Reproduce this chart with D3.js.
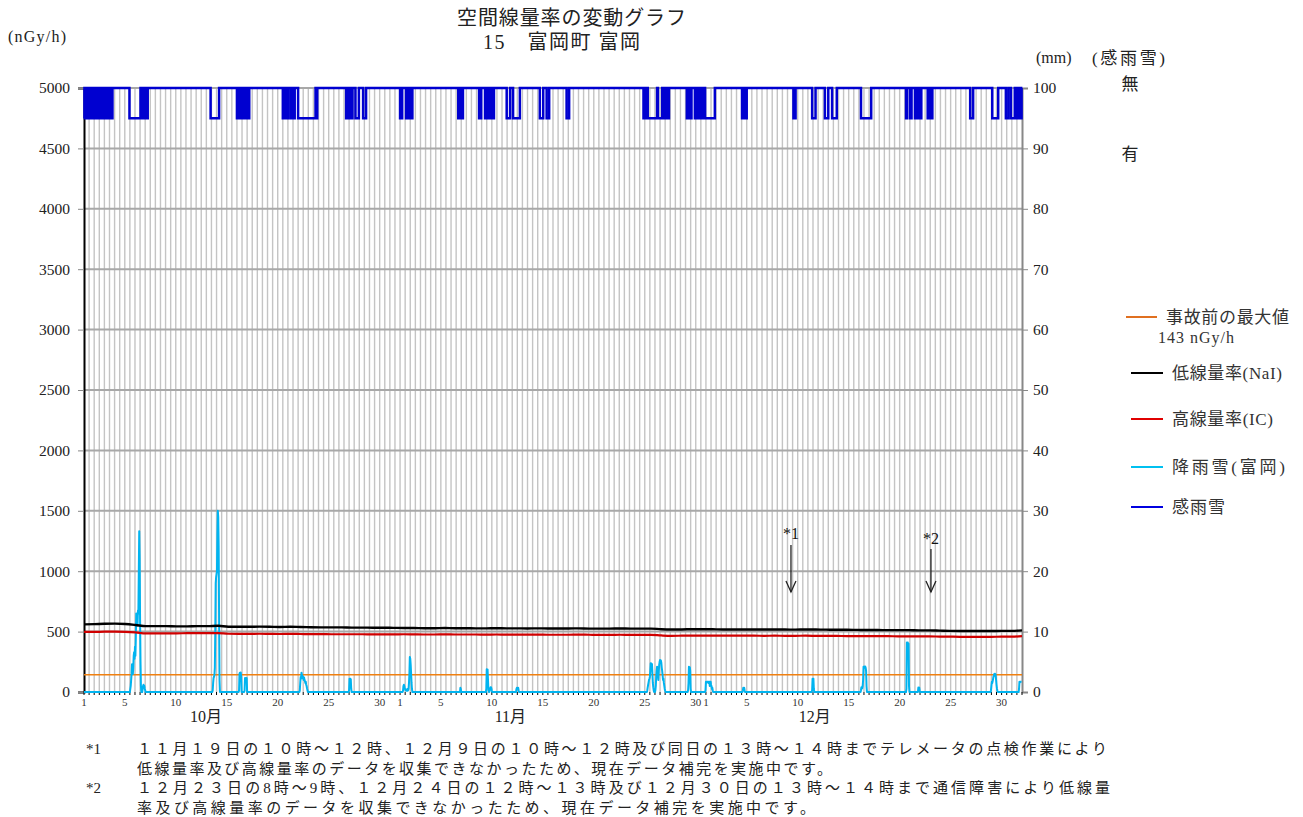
<!DOCTYPE html>
<html><head><meta charset="utf-8">
<script src="https://cdn.jsdelivr.net/npm/d3@7"></script>
<style>
html,body{margin:0;padding:0;background:#fff;}
svg{display:block;}
text{font-family:"Liberation Serif","Noto Sans CJK JP",serif;}
</style></head>
<body>
<svg id="chart" width="1303" height="817"></svg>
<script>
// ---------------- DATA ----------------
const months = ["10月", "11月", "12月"];
const monthStarts = [0, 31, 61];   // day offsets from Oct 1
const monthLengths = [31, 30, 31];
const dayLabels = [1, 5, 10, 15, 20, 25, 30];
const leftTicks = [0, 500, 1000, 1500, 2000, 2500, 3000, 3500, 4000, 4500, 5000];
const rightTicks = [0, 10, 20, 30, 40, 50, 60, 70, 80, 90, 100];
const preAccidentMax = 143;

// daily low dose rate NaI (nGy/h), Oct 1 .. Dec 31
const nai = [
 560,562,565,566,563,555,545,545,545,543,543,545,545,548,540,540,540,541,540,538,540,538,536,535,535,535,533,533,532,532,531,
 530,530,528,528,530,528,528,527,527,528,527,527,526,527,526,526,526,527,525,525,525,526,525,525,525,520,518,518,520,520,
 519,518,518,518,517,517,517,517,516,518,517,516,515,515,514,513,513,512,512,512,510,510,508,506,505,505,505,505,506,506,510
];
// daily high dose rate IC (nGy/h)
const ic = [
 497,497,500,500,498,493,485,486,486,486,487,487,487,488,482,481,481,482,481,480,481,480,479,479,478,478,478,478,477,477,477,
 478,477,476,476,477,476,476,476,475,476,475,475,475,475,474,474,474,475,474,473,473,474,473,473,473,468,465,466,467,467,
 467,467,466,466,466,465,466,465,465,466,465,464,464,463,463,462,462,462,461,461,460,460,459,458,457,457,457,457,458,458,462
];
// precipitation (mm/h): [start hour from Oct 1 00:00, consecutive hourly values]; all other hours are 0
const precipRuns = [
 [109, [0.5,1,2,3,4.6,4,3,4,6,6.6,5.5,7.5,6,9,13,12,12.5,11,13.5,13,20,26.6,22,12,5,1,0,0,0,0.5,1,1.2,0.8,1,0.5,0.3,0]],
 [303, [0.3,1.5,2.3,2.5,2.8,4,10,18,19,19.5,20,26,30,29,24,12,2,0]],
 [365, [0.3,3.0,3.2,3.1,3.2,2.5,0]],
 [378, [0.2,2.3,2.1,2.3,2.2,2.3,0]],
 [508, [0.3,1.5,2.5,2.2,3.2,2.8,2.3,2.6,2.3,2.0,2.4,2.0,1.8,1.5,1.7,1.2,1.0,0.6,0.3,0]],
 [624, [0.3,2.2,2.0,2.2,2.1,0.5,0]],
 [751, [0.2,1.0,1.2,1.0,0.6,0.5,0.3,0.4,0.2,0.3,0.5,0.2,0.3,0.5,1.5,3,5.8,5.5,4.5,3,1.5,0.5,0]],
 [886, [0.7,0.5,0]],
 [947, [0.5,3.75,3.6,3.7,2,0.3,0,0,0.3,0.5,0.8,0.8,0.6,0.2,0]],
 [1018, [0.5,0.7,0.7,0.6,0.7,0.3,0]],
 [1326, [0.3,0.8,1.2,1.6,2.0,2.2,2.5,3.5,4.75,4.5,4.7,4.6,3.0,1.5,0.8,0.3,0]],
 [1345, [0.3,1.0,2.5,3.5,4.2,4.0,3.0,2.0,3.5,4.5,5.0,5.3,4.8,5.2,4.8,4.0,3.5,2.8,2.0,2.2,1.5,1.0,0.5,0.2,0]],
 [1422, [0.3,1.5,4.2,4.0,4.1,3.5,0.5,0]],
 [1463, [0.3,1.7,1.7,1.6,1.7,1.7,1.7,1.5,1.7,1.7,1.0,1.7,1.7,1.2,1.0,0.5,0.7,0.3,0]],
 [1551, [0.3,0.7,0.6,0.7,0.3,0]],
 [1714, [0.3,2.2,2.0,2.2,0.5,0]],
 [1829, [0.3,0.8,0.8,0.6,1.0,2.0,4.2,4.0,4.2,4.1,4.2,4.0,3.5,1.0,0]],
 [1936, [0.5,8.2,8.0,8.2,7.8,8.0,1.0,0]],
 [1964, [0.75,0.7,0.75,0.3,0]],
 [2135, [0.3,1.0,1.7,1.5,1.8,2.2,2.6,2.8,3.0,2.7,3.0,2.8,2.0,1.2,0.6,0.2,0]],
 [2201, [0.5,1.7,1.6,1.7,1.7,1.7,1.7]]
];
// rain/snow sensor "有" periods: [start day, end day, flickering(1) or steady(0)]
const rainSense = [
 [0.00,2.81,1],[4.44,5.56,0],[5.69,6.28,1],[12.43,13.27,0],[14.98,15.20,0],[15.40,16.21,1],
 [19.49,20.04,1],[20.30,20.69,1],[21.02,22.66,0],[22.66,22.88,1],[25.70,26.35,1],[26.61,26.94,0],[27.39,27.66,0],
 [30.99,31.20,0],[31.60,32.20,1],[36.71,37.20,1],[38.74,38.94,0],[39.33,40.24,1],[41.46,41.78,0],[42.10,42.76,0],
 [44.72,45.05,0],[45.38,45.63,0],[47.34,47.57,0],[54.86,55.35,1],[55.35,56.20,0],[56.30,56.66,0],[56.66,57.37,1],
 [59.11,59.60,1],[59.93,60.90,1],[60.90,61.89,0],[64.56,64.99,1],[69.57,69.80,0],[71.43,71.76,0],[72.68,73.00,0],
 [73.39,73.82,0],[76.20,77.19,0],[80.62,80.75,0],[81.05,81.18,0],[81.51,82.16,1],[82.75,83.24,1],[86.90,87.22,0],
 [89.08,89.67,0],[90.40,90.66,0],[90.92,91.31,0],[91.48,91.97,1]
];
const notes = [
 {mark: "*1", day: 69.34},
 {mark: "*2", day: 83.07}
];
const footnotes = [
 ["*1", "１１月１９日の１０時～１２時、１２月９日の１０時～１２時及び同日の１３時～１４時までテレメータの点検作業により", 970],
 ["",   "低線量率及び高線量率のデータを収集できなかったため、現在データ補完を実施中です。", 695],
 ["*2", "１２月２３日の8時～9時、１２月２４日の１２時～１３時及び１２月３０日の１３時～１４時まで通信障害により低線量", 973],
 ["",   "率及び高線量率のデータを収集できなかったため、現在データ補完を実施中です。", 678]
];
const legendItems = [
 {label: "事故前の最大値", sub: "143 nGy/h", color: "#e07020"},
 {label: "低線量率(NaI)", color: "#000000"},
 {label: "高線量率(IC)", color: "#e00000"},
 {label: "降雨雪(富岡)", color: "#00c0f0"},
 {label: "感雨雪", color: "#0000e0"}
];

// ---------------- DRAW ----------------
const svg = d3.select("#chart");
const totalDays = 92, H = totalDays * 24;
const L = 84, R = 1022, T = 88, B = 692;
const x = d3.scaleLinear().domain([0, totalDays]).range([L, R]);
const yL = d3.scaleLinear().domain([0, 5000]).range([B, T]);
const yR = d3.scaleLinear().domain([0, 100]).range([B, T]);

// vertical grid every 12h
const g = svg.append("g");
g.selectAll("line.v").data(d3.range(1, totalDays * 2)).join("line")
  .attr("x1", d => x(d / 2)).attr("x2", d => x(d / 2))
  .attr("y1", T).attr("y2", B)
  .attr("stroke", "#c4c4c4").attr("stroke-width", 1.4);
// horizontal grid
g.selectAll("line.h").data(leftTicks.filter(v => v > 0)).join("line")
  .attr("x1", L).attr("x2", R).attr("y1", d => yL(d)).attr("y2", d => yL(d))
  .attr("stroke", "#a8a8a8").attr("stroke-width", 2);

// axes
const leftAxis = d3.axisLeft(yL).tickValues(leftTicks).tickSize(6).tickPadding(8).tickFormat(d3.format("d"));
const la = svg.append("g").attr("transform", `translate(${L},0)`).call(leftAxis);
la.select(".domain").attr("stroke", "#000").attr("stroke-width", 2);
la.selectAll(".tick line").attr("stroke", "#888");
la.selectAll("text").attr("font-size", 15.5).attr("fill", "#222").attr("font-family", "Liberation Serif");

const rightAxis = d3.axisRight(yR).tickValues(rightTicks).tickSize(6).tickPadding(5);
const ra = svg.append("g").attr("transform", `translate(${R},0)`).call(rightAxis);
ra.select(".domain").attr("stroke", "#888").attr("stroke-width", 2);
ra.selectAll(".tick line").attr("stroke", "#888");
ra.selectAll("text").attr("font-size", 15.5).attr("fill", "#222").attr("font-family", "Liberation Serif");

// bottom small ticks every 12h
svg.append("g").selectAll("line").data(d3.range(0, totalDays * 2 + 1)).join("line")
  .attr("x1", d => x(d / 2)).attr("x2", d => x(d / 2)).attr("y1", B).attr("y2", B + 3)
  .attr("stroke", "#000").attr("stroke-width", 1);

// day labels
const dayLabelData = [];
months.forEach((m, i) => dayLabels.forEach(d => { if (d <= monthLengths[i]) dayLabelData.push({d, t: monthStarts[i] + d - 1}); }));
svg.append("g").selectAll("text").data(dayLabelData).join("text")
  .attr("x", d => x(d.t)).attr("y", 706).attr("text-anchor", "middle")
  .attr("font-size", 11).attr("fill", "#333").text(d => d.d);
// month labels
svg.append("g").selectAll("text").data(months).join("text")
  .attr("x", (d, i) => x(11.97 + i * 29.85)).attr("y", 722).attr("text-anchor", "middle")
  .attr("font-size", 16).attr("fill", "#222").text(d => d);

// pre-accident max
svg.append("line").attr("x1", L).attr("x2", R).attr("y1", yL(preAccidentMax)).attr("y2", yL(preAccidentMax))
  .attr("stroke", "#f08010").attr("stroke-width", 1.5);

// precipitation hourly
const precip = new Array(H).fill(0);
precipRuns.forEach(([s, vals]) => vals.forEach((v, k) => { if (s + k < H) precip[s + k] = v; }));
const lineP = d3.line().x((d, i) => x(i / 24)).y(d => yR(d));
svg.append("path").datum(precip).attr("d", lineP).attr("fill", "none")
  .attr("stroke", "#00b4f0").attr("stroke-width", 2).attr("stroke-linejoin", "round");

// dose rates (daily), spanning the full period
const lineD = d3.line().x((d, i, arr) => x(i * totalDays / (arr.length - 1))).y(d => yL(d)).curve(d3.curveMonotoneX);
svg.append("path").datum(ic).attr("d", lineD).attr("fill", "none").attr("stroke", "#d00000").attr("stroke-width", 2.2);
svg.append("path").datum(nai).attr("d", lineD).attr("fill", "none").attr("stroke", "#000").attr("stroke-width", 2.4);

// rain/snow sensor
const sense = new Array(H).fill(0);
rainSense.forEach(([a, b, fl]) => {
  const s = Math.round(a * 24), e = Math.round(b * 24);
  for (let h = s; h < e && h < H; h++) sense[h] = fl ? ((h - s) % 2 === 0 ? 1 : 0) : 1;
});
const senseData = sense.concat([sense[H - 1]]);
const lineS = d3.line().x((d, i) => x(i / 24)).y(d => yR(d ? 95 : 100)).curve(d3.curveStepAfter);
svg.append("path").datum(senseData).attr("d", lineS).attr("fill", "none")
  .attr("stroke", "#0000d0").attr("stroke-width", 2.5);

// annotations *1 *2
const an = svg.append("g").selectAll("g").data(notes).join("g");
an.append("text").attr("x", d => x(d.day)).attr("y", (d, i) => 539 + i * 5).attr("text-anchor", "middle")
  .attr("font-family", "Liberation Sans, Noto Sans, sans-serif").attr("font-size", 16).attr("fill", "#111").text(d => d.mark);
an.append("line").attr("x1", d => x(d.day)).attr("x2", d => x(d.day))
  .attr("y1", (d, i) => 545 + i * 4).attr("y2", 592).attr("stroke", "#222").attr("stroke-width", 1.3);
an.append("path").attr("d", d => `M${x(d.day) - 5},${581} L${x(d.day)},${592} L${x(d.day) + 5},${581}`)
  .attr("fill", "none").attr("stroke", "#222").attr("stroke-width", 1.3);

// titles
svg.append("text").attr("x", 457).attr("y", 25).attr("font-size", 20)
  .attr("textLength", 229).attr("lengthAdjust", "spacing").attr("fill", "#222").text("空間線量率の変動グラフ");
svg.append("text").attr("x", 483).attr("y", 49).attr("font-size", 20)
  .attr("textLength", 157).attr("lengthAdjust", "spacing").attr("fill", "#222").text("15　富岡町 富岡");
svg.append("text").attr("x", 8).attr("y", 42).attr("font-size", 16).attr("textLength", 58)
  .attr("lengthAdjust", "spacing").attr("fill", "#222").text("(nGy/h)");
svg.append("text").attr("x", 1036).attr("y", 63).attr("font-size", 16).attr("fill", "#222").text("(mm)");
svg.append("text").attr("x", 1092).attr("y", 64).attr("font-size", 17).attr("textLength", 73)
  .attr("lengthAdjust", "spacing").attr("fill", "#222").text("(感雨雪)");
svg.append("text").attr("x", 1130).attr("y", 90).attr("text-anchor", "middle").attr("font-size", 17).attr("fill", "#222").text("無");
svg.append("text").attr("x", 1130).attr("y", 160).attr("text-anchor", "middle").attr("font-size", 17).attr("fill", "#222").text("有");

// legend
const legY = [317, 373, 419, 467, 507];
const legW = [123, 110, 101, 113, 53];
const lg = svg.append("g").selectAll("g").data(legendItems).join("g")
  .attr("transform", (d, i) => `translate(0,${legY[i]})`);
lg.append("line").attr("x1", (d, i) => i === 0 ? 1126 : 1131).attr("x2", (d, i) => i === 0 ? 1157 : 1163)
  .attr("stroke", d => d.color).attr("stroke-width", 2);
lg.append("text").attr("x", (d, i) => i === 0 ? 1166 : 1172).attr("y", 6).attr("font-size", 17)
  .attr("textLength", (d, i) => legW[i]).attr("lengthAdjust", "spacing")
  .attr("fill", "#333").text(d => d.label);
lg.filter(d => d.sub).append("text").attr("x", 1158).attr("y", 26).attr("font-size", 16)
  .attr("textLength", 76).attr("lengthAdjust", "spacing")
  .attr("fill", "#333").text(d => d.sub);

// footnotes
const fn = svg.append("g").selectAll("g").data(footnotes).join("g")
  .attr("transform", (d, i) => `translate(0,${754 + i * 19.5})`);
fn.append("text").attr("x", 86).attr("font-size", 15).attr("fill", "#222").text(d => d[0]);
fn.append("text").attr("x", 137).attr("font-size", 15).attr("fill", "#222")
  .attr("textLength", d => d[2]).attr("lengthAdjust", "spacing").text(d => d[1]);
</script>
</body></html>
